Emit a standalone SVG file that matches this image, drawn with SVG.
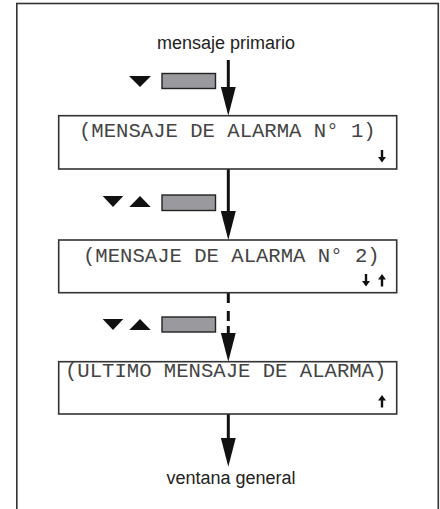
<svg xmlns="http://www.w3.org/2000/svg" width="440" height="509" viewBox="0 0 440 509">
<style>
.frame{fill:none;stroke:#333;stroke-width:1.6}
.box{fill:#fff;stroke:#333;stroke-width:1.6}
.lbl{font-family:"Liberation Sans",Arial,sans-serif;font-size:18px;fill:#222}
.mono{font-family:"Liberation Mono","Courier New",monospace;font-size:20.6px;fill:#444}
.key{fill:#9a9a9e;stroke:#222;stroke-width:1.4}
.tri{fill:#111}
.conn{stroke:#111;stroke-width:3;fill:none}
.dash{stroke-dasharray:10 8}
.sm{fill:#111}
</style>
<defs>
<marker id="ah" markerUnits="userSpaceOnUse" viewBox="0 0 29 15" refX="8" refY="7.5" markerWidth="29" markerHeight="15" orient="auto">
<path d="M0,0 L29,7.5 L0,15 Z" fill="#111"/>
</marker>
<path id="sdown" d="M-1.2,0 h2.4 v7 h2.8 L0,12.5 L-4,7 h2.8 Z"/>
<path id="sup" d="M-1.2,12.5 h2.4 v-7 h2.8 L0,0 L-4,5.5 h2.8 Z"/>
</defs>
<rect class="frame" x="16.8" y="3.5" width="421.5" height="520"/>

<g id="connectors">
<line class="conn" x1="228.3" y1="60" x2="228.3" y2="94.7" marker-end="url(#ah)"/>
<line class="conn" x1="228.3" y1="169" x2="228.3" y2="219" marker-end="url(#ah)"/>
<line class="conn dash" x1="228.3" y1="293" x2="228.3" y2="326"/>
<line class="conn" x1="228.3" y1="326" x2="228.3" y2="340.7" marker-end="url(#ah)"/>
<line class="conn" x1="228.3" y1="414" x2="228.3" y2="445.7" marker-end="url(#ah)"/>
</g>

<g id="start">
<text class="lbl" x="226" y="49" text-anchor="middle">mensaje primario</text>
</g>

<g id="key1">
<polygon class="tri" points="129,76 151,76 140,87"/>
<rect class="key" x="162" y="73.5" width="53.5" height="15"/>
</g>

<g id="msg1">
<rect class="box" x="58.7" y="115.7" width="338" height="53.3"/>
<text class="mono" x="79" y="137">(MENSAJE DE ALARMA N° 1)</text>
<use href="#sdown" class="sm" x="382" y="150"/>
</g>

<g id="key2">
<polygon class="tri" points="102.7,196 123.3,196 113,207"/>
<polygon class="tri" points="129.3,207 150.7,207 140,196"/>
<rect class="key" x="162" y="195" width="53.5" height="15.5"/>
</g>

<g id="msg2">
<rect class="box" x="58.7" y="240" width="338" height="52.7"/>
<text class="mono" x="83" y="262">(MENSAJE DE ALARMA N° 2)</text>
<use href="#sdown" class="sm" x="366" y="274"/>
<use href="#sup" class="sm" x="382" y="274"/>
</g>

<g id="key3">
<polygon class="tri" points="102.7,319 123.3,319 113,330"/>
<polygon class="tri" points="129.3,330 150.7,330 140,319"/>
<rect class="key" x="162" y="317" width="53.5" height="15"/>
</g>

<g id="msg3">
<rect class="box" x="58.7" y="361.7" width="338" height="52.3"/>
<text class="mono" x="65" y="377">(ULTIMO MENSAJE DE ALARMA)</text>
<use href="#sup" class="sm" x="382" y="395"/>
</g>

<g id="end">
<text class="lbl" x="231" y="484" text-anchor="middle">ventana general</text>
</g>
</svg>
